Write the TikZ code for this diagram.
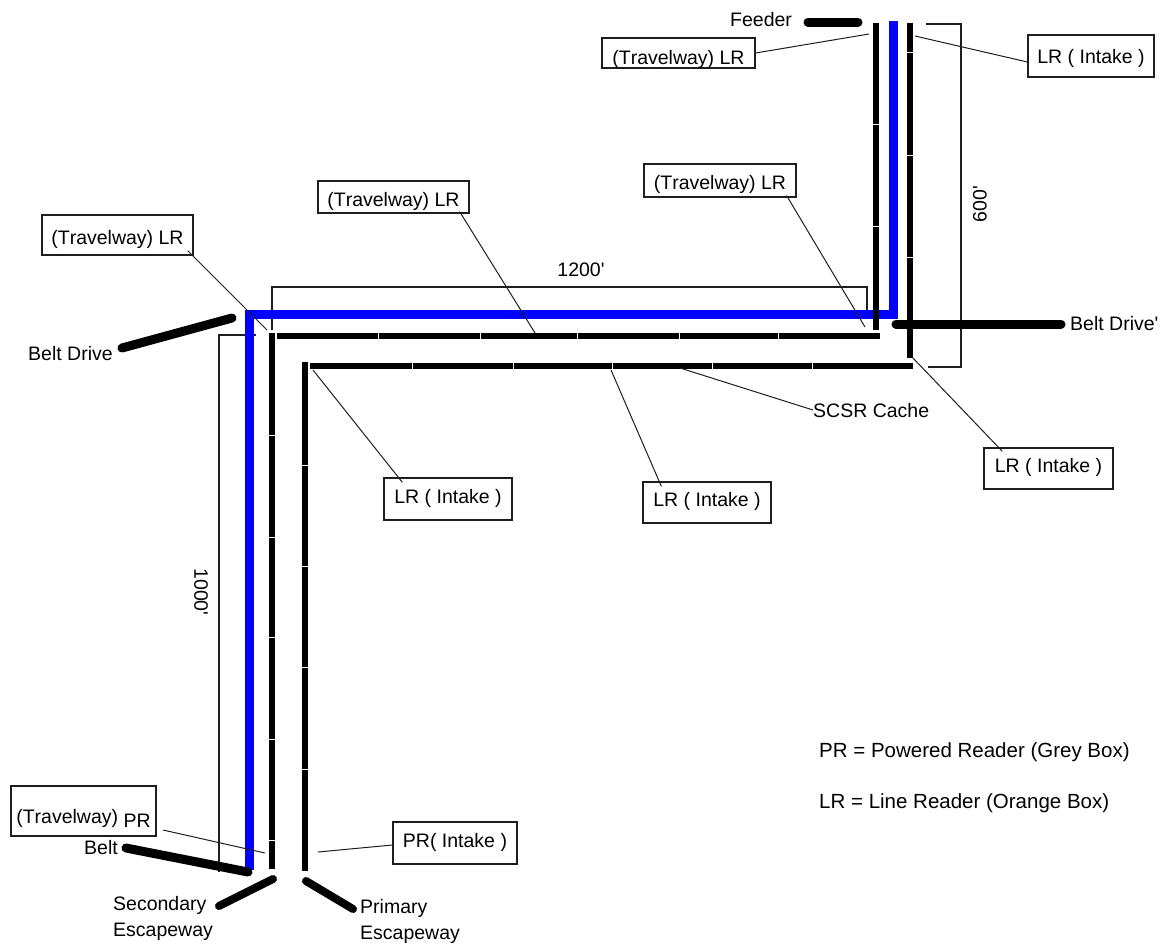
\documentclass[tikz,border=0pt]{standalone}
\usepackage{fontspec}
\setmainfont{Liberation Sans}[Kerning=Off,Ligatures=TeXOff]
\definecolor{beltblue}{RGB}{0,0,255}
\definecolor{thinline}{RGB}{30,30,30}
\tikzset{
  readerbox/.style={draw=thinline,line width=1.3pt,inner sep=0pt,text height=14pt,text depth=0pt},
  lbl/.style={inner sep=0pt,text height=14pt,text depth=0pt,anchor=west},
  wire/.style={line width=6pt,line cap=butt},
  belt/.style={line width=9pt,line cap=round},
  leader/.style={line width=1pt,color=thinline},
  dim/.style={line width=1.2pt,color=thinline}
}
\begin{document}
\begin{tikzpicture}[x=1pt,y=-1pt,font=\fontsize{19.5}{23}\selectfont]
      \useasboundingbox (0,0) rectangle (1168,943);
      % dimension brackets
      \draw[dim] (272,330) -- (272,287) -- (867,287) -- (867,314);
      \draw[dim] (926,24) -- (961,24) -- (961,367) -- (928,367);
      \draw[dim] (256,335) -- (219,335) -- (219,872);
      % main lines
      \draw[line width=9pt,color=beltblue] (893,21) -- (893,314.5) -- (249,314.5) -- (249,870);
      \foreach \a/\b in {277/377.5,378.5/479.5,480.5/576.5,577.5/678.5,679.5/777.5,778.5/880}
        \draw[wire] (\a,335.5) -- (\b,335.5);
      \foreach \a/\b in {310/411.5,412.5/512.5,513.5/611.5,612.5/711.5,712.5/811.5,812.5/913}
        \draw[wire] (\a,365.5) -- (\b,365.5);
      \foreach \a/\b in {333/434.5,435.5/536.5,537.5/636.5,637.5/738.5,739.5/839.5,840.5/869}
        \draw[wire] (272,\a) -- (272,\b);
      \foreach \a/\b in {362/464.5,465.5/565.5,566.5/666.5,667.5/768.5,769.5/871}
        \draw[wire] (305,\a) -- (305,\b);
      \foreach \a/\b in {23/123.5,124.5/225.5,226.5/330}
        \draw[wire] (876,\a) -- (876,\b);
      \foreach \a/\b in {23/51.5,52.5/154.5,155.5/256.5,257.5/358}
        \draw[wire] (910,\a) -- (910,\b);
      % belts
      \draw
        (808,22) coordinate (f1)
        (858,22) coordinate (f2)
        (896,324) coordinate (d1)
        (1061,324) coordinate (d2)
        (122,348) coordinate (g1)
        (232,318) coordinate (g2)
        (126,848) coordinate (h1)
        (248,872) coordinate (h2)
        (219,906) coordinate (s1)
        (273,879) coordinate (s2)
        (306,881) coordinate (p1)
        (353,909) coordinate (p2);
      \begin{scope}[belt]
        \draw (f1) to (f2);
        \draw (d1) to (d2);
        \draw (g1) to (g2);
        \draw (h1) to (h2);
        \draw[line width=8pt] (s1) to (s2);
        \draw[line width=8pt] (p1) to (p2);
      \end{scope}
      % reader boxes
      \draw
        (678.5,53) node[readerbox,text height=22pt,minimum width=153pt,minimum height=30pt] (r0){(Travelway) LR}
        (1091,56) node[readerbox,minimum width=126pt,minimum height=42pt] (r1){LR ( Intake )}
        (393.5,197) node[readerbox,text height=18pt,minimum width=151pt,minimum height=32pt] (r2){(Travelway) LR}
        (720,180.5) node[readerbox,text height=17pt,minimum width=152pt,minimum height=33pt] (r3){(Travelway) LR}
        (117.5,235) node[readerbox,text height=18pt,minimum width=151pt,minimum height=40pt] (r4){(Travelway) LR}
        (448,499) node[readerbox,text height=8pt,minimum width=128pt,minimum height=42pt] (r5){LR ( Intake )}
        (707,502.5) node[readerbox,text height=8pt,minimum width=128pt,minimum height=41pt] (r6){LR ( Intake )}
        (1048.5,468.5) node[readerbox,text height=8pt,minimum width=129pt,minimum height=41pt] (r7){LR ( Intake )}
        (83.5,811) node[readerbox,text height=24pt,minimum width=145pt,minimum height=50pt] (r8){(Travelway) \raisebox{-4pt}{PR}}
        (455,843) node[readerbox,text height=8pt,minimum width=124pt,minimum height=42pt] (r9){PR( Intake )};
      % text labels
      \draw
        (730,19) node[lbl] (feeder){Feeder}
        (1070,323) node[lbl] (drive2){Belt Drive'}
        (28,353) node[lbl] (drive1){Belt Drive}
        (84,847) node[lbl] (beltlbl){Belt}
        (113,903) node[lbl] (sec1){Secondary}
        (113,929) node[lbl] (sec2){Escapeway}
        (360,906) node[lbl] (prim1){Primary}
        (360,932) node[lbl] (prim2){Escapeway}
        (813,410) node[lbl] (scsr){SCSR Cache}
        (819,750) node[lbl,font=\fontsize{20.5}{24}\selectfont] (key1){PR = Powered Reader (Grey Box)}
        (819,801) node[lbl,font=\fontsize{20.5}{24}\selectfont] (key2){LR = Line Reader (Orange Box)}
        (581,270) node[inner sep=0pt] (len1){1200'}
        (980,204) node[inner sep=0pt,rotate=90] (len2){600'}
        (201,592) node[inner sep=0pt,rotate=-90] (len3){1000'};
      % leader ends
      \draw
        (869,34) coordinate (e0)
        (915,36) coordinate (e1)
        (535,333) coordinate (e2)
        (865,327) coordinate (e3)
        (267,330) coordinate (e4)
        (313,370) coordinate (e5)
        (611,370) coordinate (e6)
        (912,357) coordinate (e7)
        (680,368) coordinate (e8)
        (265,853) coordinate (e9)
        (318,852) coordinate (e10)
        (163,830) coordinate (b8);
      \begin{scope}[leader]
        \draw (r0.east) to (e0);
        \draw (r1.west) ++(0,6) to (e1);
        \draw ([shift={(-10,-2)}]r2.south east) to (e2);
        \draw ([shift={(-10,-2)}]r3.south east) to (e3);
        \draw ([shift={(-6,-5)}]r4.south east) to (e4);
        \draw ([shift={(19,5)}]r5.north west) to (e5);
        \draw ([shift={(19,5)}]r6.north west) to (e6);
        \draw ([shift={(19,4)}]r7.north west) to (e7);
        \draw (scsr.west) to (e8);
        \draw (b8) to (e9);
        \draw (r9.west) ++(0,2) to (e10);
      \end{scope}
    \end{tikzpicture}
\end{document}
